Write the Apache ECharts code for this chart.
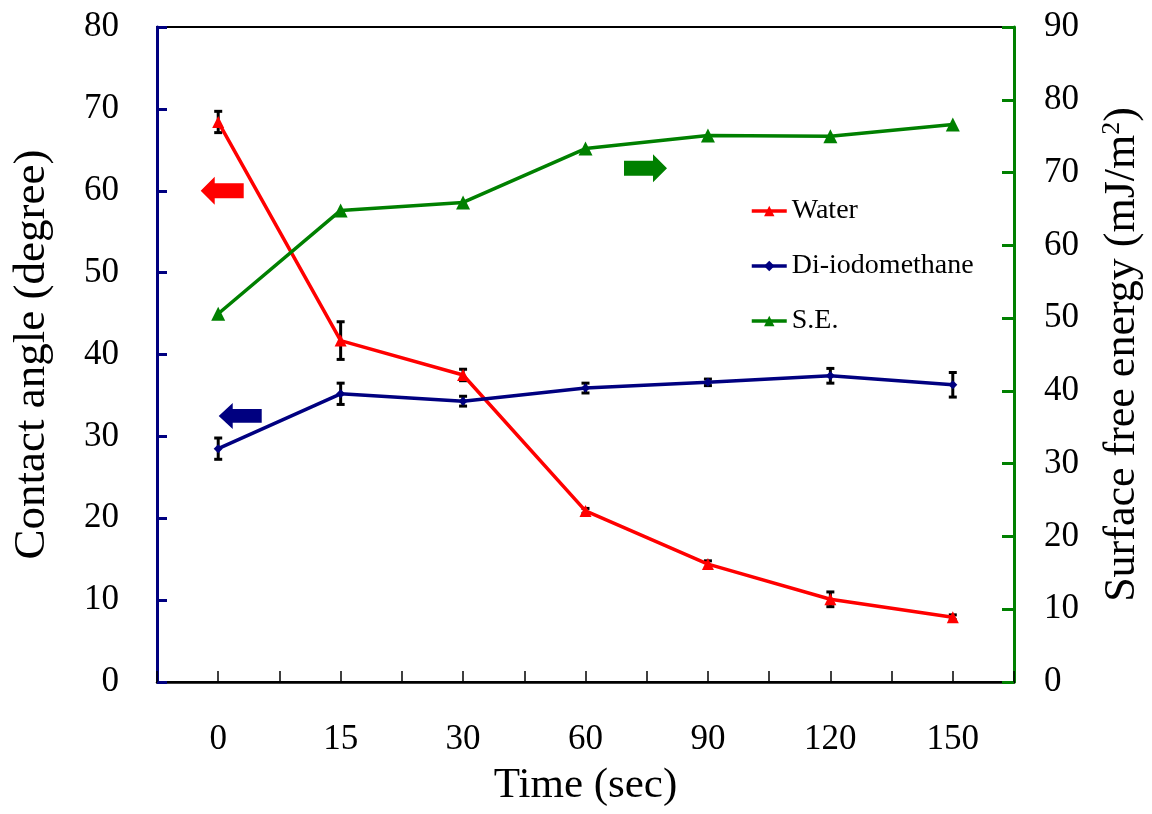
<!DOCTYPE html>
<html>
<head>
<meta charset="utf-8">
<script src="https://cdn.jsdelivr.net/npm/echarts@6/dist/echarts.min.js"></script>
<style>
  html, body { margin: 0; padding: 0; background: #fff; }
  #chart { width: 1152px; height: 814px; }
</style>
</head>
<body>
<div id="chart"></div>
<script>
// Sampling times (sec)
const times = ['0', '15', '30', '60', '90', '120', '150'];

// Contact angles (degree) with standard deviations
const waterAngle = [68.4, 41.7, 37.5, 20.9, 14.4, 10.1, 7.9];
const waterErr   = [1.3, 2.3, 0.7, 0.3, 0.4, 0.9, 0.3];
const diiodoAngle = [28.5, 35.2, 34.3, 35.9, 36.6, 37.4, 36.3];
const diiodoErr   = [1.3, 1.3, 0.6, 0.6, 0.4, 0.9, 1.5];

// Surface free energy (mJ/m^2)
const surfaceEnergy = [50.6, 64.8, 65.9, 73.3, 75.1, 75.0, 76.6];

const FONT = 'Liberation Serif';
const RED = '#ff0000', NAVY = '#000080', GREEN = '#008000';

const ARROW_LEFT = 'path://M0,14 L14,0 L14,6.5 L43,6.5 L43,21.5 L14,21.5 L14,28 Z';
const ARROW_RIGHT = 'path://M43,14 L29,0 L29,6.5 L0,6.5 L0,21.5 L29,21.5 L29,28 Z';

function errorData(means, errs) {
  return means.map((m, i) => [i, m - errs[i], m + errs[i]]);
}

function renderErrorBar(params, api) {
  const x = api.value(0);
  const lo = api.coord([x, api.value(1)]);
  const hi = api.coord([x, api.value(2)]);
  const half = 4;
  const style = { stroke: '#000', lineWidth: 3 };
  return {
    type: 'group',
    children: [
      { type: 'line', shape: { x1: lo[0], y1: lo[1], x2: hi[0], y2: hi[1] }, style },
      { type: 'line', shape: { x1: lo[0] - half, y1: lo[1], x2: lo[0] + half, y2: lo[1] }, style },
      { type: 'line', shape: { x1: hi[0] - half, y1: hi[1], x2: hi[0] + half, y2: hi[1] }, style }
    ]
  };
}

const chart = echarts.init(document.getElementById('chart'), null, { renderer: 'canvas' });

chart.setOption({
  animation: false,
  backgroundColor: '#fff',
  textStyle: { fontFamily: FONT, color: '#000' },
  grid: {
    left: 157, right: 137, top: 27, bottom: 132,
    show: true, borderColor: '#000', borderWidth: 2, backgroundColor: 'transparent'
  },
  legend: {
    orient: 'vertical',
    left: 750, top: 197,
    padding: 0,
    itemWidth: 35, itemHeight: 13, itemGap: 27,
    lineStyle: { width: 3.5 },
    textStyle: { fontFamily: FONT, fontSize: 28, color: '#000', lineHeight: 27 },
    data: ['Water', 'Di-iodomethane', 'S.E.']
  },
  xAxis: [
    {
      type: 'category',
      data: times,
      boundaryGap: true,
      position: 'bottom',
      axisLine: { show: true, lineStyle: { color: '#000', width: 2.5 } },
      axisTick: { show: true, inside: true, length: 11, alignWithLabel: false, lineStyle: { color: '#000', width: 1.5 } },
      axisLabel: { fontFamily: FONT, fontSize: 35, color: '#000', margin: 40 },
      splitLine: { show: false },
      name: 'Time (sec)',
      nameLocation: 'middle',
      nameGap: 82,
      nameTextStyle: { fontFamily: FONT, fontSize: 43, color: '#000' }
    },
    {
      type: 'category',
      data: times,
      boundaryGap: true,
      position: 'bottom',
      axisLine: { show: false },
      axisTick: { show: true, inside: true, length: 11, alignWithLabel: true, lineStyle: { color: '#000', width: 1.5 } },
      axisLabel: { show: false },
      splitLine: { show: false }
    }
  ],
  yAxis: [
    {
      type: 'value',
      min: 0, max: 80, interval: 10,
      position: 'left',
      axisLine: { show: true, lineStyle: { color: NAVY, width: 3 } },
      axisTick: { show: true, inside: true, length: 10, lineStyle: { color: NAVY, width: 3 } },
      axisLabel: { fontFamily: FONT, fontSize: 35, color: '#000', margin: 38 },
      splitLine: { show: false },
      name: 'Contact angle (degree)',
      nameLocation: 'middle',
      nameRotate: 90,
      nameGap: 102,
      nameTextStyle: { fontFamily: FONT, fontSize: 45, color: '#000' }
    },
    {
      type: 'value',
      min: 0, max: 90, interval: 10,
      position: 'right',
      axisLine: { show: true, lineStyle: { color: GREEN, width: 3 } },
      axisTick: { show: true, inside: true, length: 12, lineStyle: { color: GREEN, width: 3 } },
      axisLabel: { fontFamily: FONT, fontSize: 35, color: '#000', margin: 30 },
      splitLine: { show: false },
      name: 'Surface free energy (mJ/m{sup|2})',
      nameLocation: 'middle',
      nameRotate: 90,
      nameGap: 85,
      nameTextStyle: {
        fontFamily: FONT, fontSize: 44, color: '#000',
        rich: { sup: { fontFamily: FONT, fontSize: 26, color: '#000', verticalAlign: 'top', padding: [0, 0, 20, 0] } }
      }
    }
  ],
  series: [
    {
      name: 'Water',
      type: 'line',
      data: waterAngle,
      yAxisIndex: 0,
      symbol: 'triangle', symbolSize: 12,
      lineStyle: { color: RED, width: 3.5 },
      itemStyle: { color: RED },
      z: 3,
      markPoint: {
        silent: true,
        label: { show: false },
        data: [{ coord: [0, 60], symbol: ARROW_LEFT, symbolSize: [43, 28], symbolOffset: [4, 0], itemStyle: { color: RED } }]
      }
    },
    {
      name: 'Di-iodomethane',
      type: 'line',
      data: diiodoAngle,
      yAxisIndex: 0,
      symbol: 'diamond', symbolSize: 9,
      lineStyle: { color: NAVY, width: 3.5 },
      itemStyle: { color: NAVY },
      z: 3,
      markPoint: {
        silent: true,
        label: { show: false },
        data: [{ coord: [0, 32.5], symbol: ARROW_LEFT, symbolSize: [43, 26], symbolOffset: [22, 0], itemStyle: { color: NAVY } }]
      }
    },
    {
      name: 'S.E.',
      type: 'line',
      data: surfaceEnergy,
      yAxisIndex: 1,
      symbol: 'triangle', symbolSize: 14,
      lineStyle: { color: GREEN, width: 3.5 },
      itemStyle: { color: GREEN },
      z: 3,
      markPoint: {
        silent: true,
        label: { show: false },
        data: [{ coord: [3, 70.6], symbol: ARROW_RIGHT, symbolSize: [43, 28], symbolOffset: [60, 0], itemStyle: { color: GREEN } }]
      }
    },
    {
      type: 'custom',
      yAxisIndex: 0,
      data: errorData(waterAngle, waterErr),
      encode: { x: 0, y: [1, 2] },
      renderItem: renderErrorBar,
      z: 2,
      silent: true
    },
    {
      type: 'custom',
      yAxisIndex: 0,
      data: errorData(diiodoAngle, diiodoErr),
      encode: { x: 0, y: [1, 2] },
      renderItem: renderErrorBar,
      z: 2,
      silent: true
    }
  ]
});
</script>
</body>
</html>
